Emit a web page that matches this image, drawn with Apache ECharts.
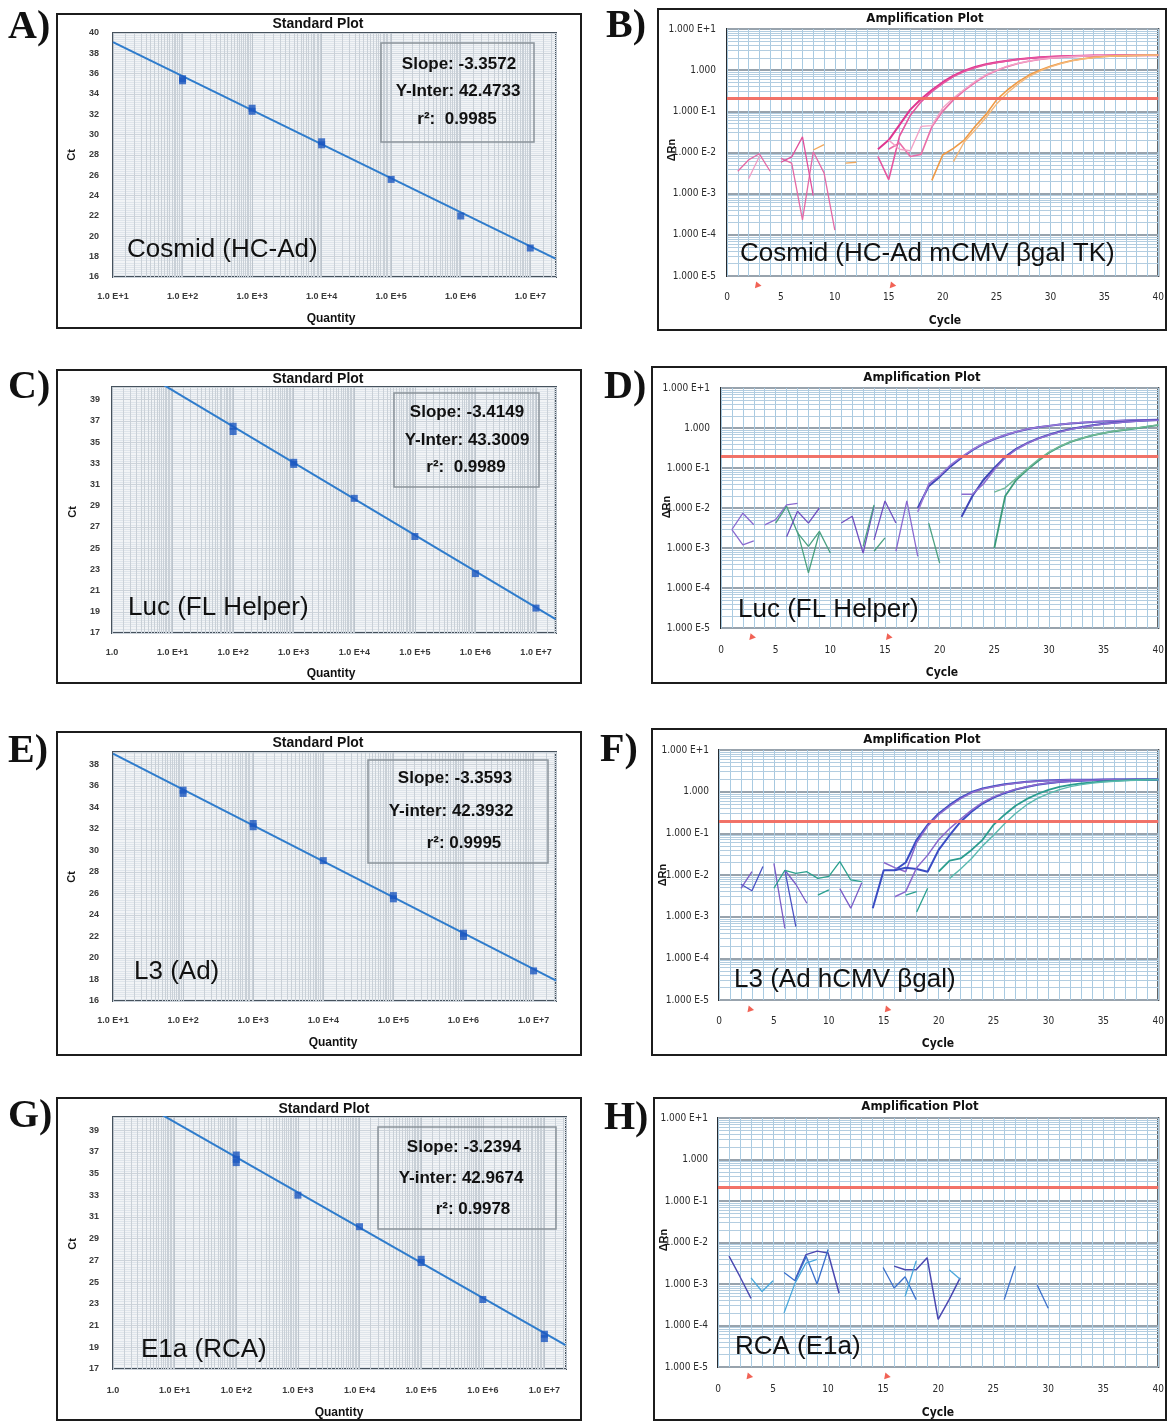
<!DOCTYPE html>
<html><head><meta charset="utf-8">
<script src="https://cdn.jsdelivr.net/npm/echarts@6.0.0/dist/echarts.min.js"></script>
<style>html,body{margin:0;padding:0;background:#fff}#c{width:1167px;height:1422px}</style>
</head><body><div id="c"></div>
<script>
// ================= DATA =================
// Standard plots: quantity (copies) and Ct of each standard replicate
const aQty = [1e2, 1e2, 1e3, 1e3, 1e4, 1e4, 1e5, 1e6, 1e7];
const aCt  = [35.5, 35.3, 32.6, 32.3, 29.3, 29.0, 25.6, 22.0, 18.85];
const aFitQty = [10, 2.3e7];
const aFitCt  = [39.1, 17.8];
const aStats = ['Slope: -3.3572', 'Y-Inter: 42.4733', 'r\u00b2:  0.9985'];

const cQty = [1e2, 1e2, 1e3, 1e3, 1e4, 1e5, 1e6, 1e7];
const cCt  = [36.5, 36.0, 33.1, 32.9, 29.7, 26.1, 22.6, 19.35];
const cFitQty = [1, 2.1e7];
const cFitCt  = [43.3, 18.3];
const cStats = ['Slope: -3.4149', 'Y-Inter: 43.3009', 'r\u00b2:  0.9989'];

const eQty = [1e2, 1e2, 1e3, 1e3, 1e4, 1e5, 1e5, 1e6, 1e6, 1e7];
const eCt  = [35.6, 35.3, 32.5, 32.2, 29.05, 25.8, 25.5, 22.3, 22.0, 18.8];
const eFitQty = [10, 2.1e7];
const eFitCt  = [39.0, 17.9];
const eStats = ['Slope: -3.3593', 'Y-inter: 42.3932', 'r\u00b2: 0.9995'];

const gQty = [1e2, 1e2, 1e2, 1e3, 1e4, 1e5, 1e5, 1e6, 1e7, 1e7];
const gCt  = [36.7, 36.3, 36.0, 33.0, 30.1, 27.1, 26.8, 23.4, 20.2, 19.8];
const gFitQty = [1, 2.2e7];
const gFitCt  = [42.97, 19.2];
const gStats = ['Slope: -3.2394', 'Y-inter: 42.9674', 'r\u00b2: 0.9978'];

// Amplification plots: delta Rn per cycle, each trace starts at the cycle in the *Starts array
const bN1 = [0.0035, 0.0066, 0.0093, 0.0035];
const bN2 = [0.0023, 0.008];
const bN3 = [0.0072, 0.0055, 0.00023, 0.0104, 0.0032, 0.00013];
const bN4 = [0.0058, 0.0078, 0.024, 0.0009];
const bN5 = [0.0115, 0.0155];
const bN6 = [0.0055, 0.0058];
const bM1 = [0.012, 0.02, 0.047, 0.11, 0.2, 0.33, 0.51, 0.74, 0.97, 1.2, 1.4, 1.55, 1.7, 1.85, 1.96, 2.05, 2.12, 2.18, 2.22, 2.25, 2.27, 2.28, 2.29, 2.3, 2.3, 2.3, 2.3];
const bM2 = [0.008, 0.0022, 0.025, 0.08, 0.17, 0.3, 0.47, 0.7, 0.93, 1.15, 1.36, 1.52, 1.68, 1.82, 1.94, 2.03, 2.1, 2.16, 2.2, 2.24, 2.26, 2.28, 2.29, 2.3, 2.3, 2.3, 2.3];
const bP1 = [0.012, 0.017, 0.008, 0.009, 0.042, 0.1, 0.19, 0.32, 0.5, 0.74, 0.98, 1.22, 1.45, 1.65, 1.82, 1.95, 2.05, 2.13, 2.19, 2.23, 2.26, 2.28, 2.29, 2.3, 2.3, 2.3];
const bP2 = [0.02, 0.012, 0.011, 0.043, 0.045, 0.12, 0.21, 0.34, 0.53, 0.77, 1.0, 1.25, 1.47, 1.67, 1.84, 1.97, 2.06, 2.14, 2.2, 2.24, 2.27, 2.28, 2.29, 2.3, 2.3, 2.3];
const bO1 = [0.0021, 0.0087, 0.0126, 0.02, 0.043, 0.083, 0.19, 0.33, 0.52, 0.76, 1.0, 1.25, 1.5, 1.72, 1.9, 2.05, 2.15, 2.22, 2.26, 2.28, 2.3, 2.3];
const bO2 = [0.006, 0.018, 0.035, 0.07, 0.15, 0.28, 0.46, 0.7, 0.95, 1.2, 1.45, 1.68, 1.87, 2.02, 2.13, 2.2, 2.25, 2.28, 2.3, 2.3];
const bStarts = [1, 2, 5, 5, 8, 11, 14, 14, 15, 15, 19, 21];

const dN1 = [0.0029, 0.0074, 0.0038];
const dN2 = [0.0029, 0.0012, 0.0015];
const dN3 = [0.0038, 0.0051, 0.012, 0.013];
const dN4 = [0.0042, 0.011, 0.0024, 0.0011, 0.0026, 0.00075];
const dN5 = [0.0026, 0.00024, 0.0024];
const dN6 = [0.0019, 0.0083, 0.0042, 0.01];
const dN7 = [0.0042, 0.0062, 0.00075, 0.011];
const dN8 = [0.0016, 0.015, 0.0042];
const dN9 = [0.00083, 0.015, 0.00062];
const dN10 = [0.0011, 0.012];
const dN11 = [0.00083, 0.0018];
const dN12 = [0.0042, 0.00042];
const dG1a = [0.01, 0.035, 0.06, 0.11, 0.18, 0.28, 0.4, 0.53, 0.66, 0.8, 0.93, 1.04, 1.13, 1.22, 1.3, 1.36, 1.42, 1.46, 1.5, 1.53, 1.56, 1.58, 1.6];
const dG1b = [0.008, 0.04, 0.065, 0.12, 0.19, 0.29, 0.41, 0.54, 0.67, 0.81, 0.94, 1.05, 1.14, 1.23, 1.31, 1.37, 1.43, 1.47, 1.51, 1.54, 1.57, 1.59, 1.61];
const dG2a = [0.006, 0.02, 0.05, 0.1, 0.19, 0.3, 0.42, 0.55, 0.68, 0.82, 0.95, 1.06, 1.17, 1.28, 1.36, 1.43, 1.49, 1.54, 1.58];
const dG2b = [0.022, 0.022, 0.04, 0.09, 0.18, 0.29, 0.41, 0.54, 0.67, 0.8, 0.93, 1.04, 1.15, 1.26, 1.34, 1.42, 1.48, 1.53, 1.57];
const dG3a = [0.001, 0.02, 0.05, 0.09, 0.15, 0.24, 0.34, 0.45, 0.55, 0.65, 0.74, 0.83, 0.9, 0.98, 1.08, 1.18];
const dG3b = [0.025, 0.032, 0.055, 0.095, 0.16, 0.25, 0.35, 0.46, 0.56, 0.66, 0.75, 0.84, 0.92, 1.0, 1.1, 1.2];
const dStarts = [1, 1, 4, 5, 7, 6, 11, 14, 16, 13, 14, 19, 18, 18, 22, 22, 25, 25];

const fN1 = [0.006, 0.0042, 0.016];
const fN2 = [0.0048, 0.012];
const fN3 = [0.019, 0.00052];
const fN4 = [0.013, 0.00058];
const fN5 = [0.013, 0.006, 0.0021];
const fN6 = [0.0048, 0.013, 0.011, 0.012, 0.0083, 0.0093, 0.021, 0.0076, 0.0069];
const fN7 = [0.0033, 0.0044];
const fN8 = [0.0047, 0.0016, 0.0065];
const fN9 = [0.0033, 0.004];
const fN10 = [0.0013, 0.0048];
const fG1a = [0.0016, 0.013, 0.013, 0.02, 0.07, 0.16, 0.3, 0.48, 0.72, 0.98, 1.2, 1.35, 1.5, 1.62, 1.72, 1.8, 1.86, 1.9, 1.92, 1.93, 1.94, 1.95, 1.95, 1.95, 1.95, 1.95, 1.95];
const fG1b = [0.02, 0.015, 0.012, 0.06, 0.15, 0.28, 0.45, 0.68, 0.94, 1.16, 1.32, 1.47, 1.6, 1.7, 1.79, 1.85, 1.89, 1.92, 1.93, 1.94, 1.95, 1.95, 1.95, 1.95, 1.95, 1.95];
const fG2a = [0.013, 0.015, 0.014, 0.012, 0.04, 0.09, 0.19, 0.33, 0.52, 0.72, 0.92, 1.12, 1.3, 1.47, 1.6, 1.7, 1.78, 1.84, 1.88, 1.91, 1.93, 1.94, 1.95, 1.95, 1.95];
const fG2b = [0.003, 0.004, 0.015, 0.03, 0.07, 0.13, 0.22, 0.36, 0.55, 0.75, 0.95, 1.14, 1.32, 1.48, 1.61, 1.71, 1.79, 1.85, 1.89, 1.92, 1.93, 1.94, 1.95, 1.95, 1.95];
const fG3a = [0.012, 0.022, 0.025, 0.04, 0.07, 0.16, 0.28, 0.46, 0.66, 0.88, 1.1, 1.3, 1.46, 1.58, 1.68, 1.76, 1.82, 1.87, 1.91, 1.93, 1.95];
const fG3b = [0.0083, 0.014, 0.025, 0.05, 0.09, 0.17, 0.3, 0.48, 0.69, 0.9, 1.12, 1.32, 1.48, 1.6, 1.7, 1.78, 1.84, 1.88, 1.92, 1.95];
const fStarts = [2, 2, 5, 6, 6, 5, 9, 11, 17, 18, 14, 15, 16, 16, 20, 21];

const hN1 = [0.0047, 0.0015, 0.00045];
const hN2 = [0.0014, 0.00066, 0.0012];
const hN3 = [0.00125, 0.0051, 0.0062, 0.0056, 0.0006];
const hN4 = [0.0047, 0.001, 0.0068];
const hN5 = [0.0002, 0.00105, 0.0032, 0.0039];
const hN6 = [0.0019, 0.0012, 0.0045];
const hN7 = [0.0025, 0.0008, 0.0015, 0.00042];
const hN8 = [0.0027, 0.0022, 0.0022, 0.0043, 0.00014, 0.00042, 0.0014];
const hN9 = [0.0005, 0.0036];
const hN10 = [0.0022, 0.0013];
const hN11 = [0.00042, 0.0027];
const hN12 = [0.00095, 0.00026];
const hStarts = [1, 3, 7, 8, 6, 6, 15, 16, 17, 21, 26, 29];

const thresholds = [0.21, 0.2, 0.19, 0.21];      // B, D, F, H threshold dRn
const baselineCycles = [2.8, 15.3];               // baseline start / end arrows

// tick helpers for log grid lines
const stdMinorMults = [1.5, 2, 2.5, 3, 3.5, 4, 4.5, 5, 5.5, 6, 6.5, 7, 7.5, 8, 8.5, 9, 9.5];
const ampMinorMults = [2, 3, 4, 5, 6, 7, 8, 9];

// ================= STYLE / LAYOUT =================
const SANS = '"Liberation Sans", Arial, sans-serif';
const NARROW = '"Liberation Sans Narrow", "DejaVu Sans Condensed", "Liberation Sans", sans-serif';
const SERIF = '"Liberation Serif", "DejaVu Serif", serif';

const grids = [], xAxis = [], yAxis = [], series = [], graphic = [];

function addText(x, y, text, font, align, rot) {
  graphic.push({type: 'text', x: x, y: y, z: 100, rotation: rot || 0,
    style: {text: text, font: font, fill: '#111', align: align || 'center', verticalAlign: 'middle'}});
}
function addRect(b, stroke, lw) {
  graphic.push({type: 'rect', z: 99, shape: {x: b[0], y: b[1], width: b[2] - b[0], height: b[3] - b[1]},
    style: {fill: 'rgba(0,0,0,0)', stroke: stroke, lineWidth: lw}});
}

function stdPanel(L, qty, ct, fitQ, fitC, stats) {
  const gi = grids.length;
  grids.push({left: L.plot[0], top: L.plot[1], width: L.plot[2] - L.plot[0], height: L.plot[3] - L.plot[1],
    show: true, backgroundColor: '#f2f4f6', borderColor: '#46525d', borderWidth: 2});
  xAxis.push({gridIndex: gi, type: 'value', min: L.xMin, max: L.xMax, interval: 1,
    axisLine: {show: false}, axisTick: {show: false},
    axisLabel: {margin: L.xm, fontSize: 9, fontWeight: 'bold', color: '#3a3a3a', fontFamily: SANS,
      formatter: v => (Math.abs(v - Math.round(v)) < 1e-6 ? (Math.round(v) === 0 ? '1.0' : '1.0 E+' + Math.round(v)) : '')},
    splitLine: {show: true, lineStyle: {color: '#bcc4cc', width: 1}}});
  yAxis.push({gridIndex: gi, type: 'value', min: L.yMin, max: L.yMax, interval: 2,
    axisLine: {show: false}, axisTick: {show: false},
    axisLabel: {margin: L.ym, fontSize: 9, fontWeight: 'bold', color: '#3a3a3a', fontFamily: SANS,
      formatter: v => (Math.abs(((v - L.yMin) % 2)) < 1e-6 ? String(v) : '')},
    splitLine: {show: true, lineStyle: {color: '#cdd4db'}},
    minorTick: {show: false, splitNumber: 10},
    minorSplitLine: {show: true, lineStyle: {color: '#dfe5eb', width: 1}}});
  const vl = [];
  for (let k = Math.floor(L.xMin); k < L.xMax; k++) {
    for (const m of stdMinorMults) {
      const v = k + Math.log10(m);
      if (v > L.xMin && v < L.xMax) vl.push({xAxis: v});
    }
  }
  series.push({type: 'line', xAxisIndex: gi, yAxisIndex: gi, data: [], z: 1, silent: true,
    markLine: {z: 1, silent: true, symbol: ['none', 'none'], label: {show: false}, animation: false,
      lineStyle: {color: '#c9d0d7', width: 1, type: 'solid', opacity: 1}, data: vl}});
  series.push({type: 'line', xAxisIndex: gi, yAxisIndex: gi, z: 3, showSymbol: false, silent: true,
    data: fitQ.map((q, j) => [Math.log10(q), fitC[j]]), lineStyle: {color: '#2f7ccc', width: 2}});
  series.push({type: 'scatter', xAxisIndex: gi, yAxisIndex: gi, z: 4, silent: true, symbol: 'rect', symbolSize: [7, 7],
    data: qty.map((q, j) => [Math.log10(q), ct[j]]), itemStyle: {color: '#1c58c0'}});
  // frame & texts
  addRect(L.box, '#1c1c1c', 2);
  addText(L.title[0], L.title[1], 'Standard Plot', 'bold 14px ' + SANS);
  addText(L.xname[0], L.xname[1], 'Quantity', 'bold 12px ' + SANS);
  addText(L.yname[0], L.yname[1], 'Ct', 'bold 11px ' + SANS, 'center', Math.PI / 2);
  addRect(L.stats, '#8b939b', 1.5);
  for (let j = 0; j < 3; j++) addText(L.statsPos[j][0], L.statsPos[j][1], stats[j], 'bold 17px ' + SANS);
  addText(L.label[0], L.label[1], L.labelText, '26px ' + SANS, 'left');
  addText(L.letter[0], L.letter[1], L.letterText, 'bold 40px ' + SERIF, 'left');
}

function ampPanel(L, traces, starts, colors, widths, thr) {
  const gi = grids.length;
  grids.push({left: L.plot[0], top: L.plot[1], width: L.plot[2] - L.plot[0], height: L.plot[3] - L.plot[1],
    show: true, backgroundColor: '#ffffff', borderColor: '#262b30', borderWidth: 2});
  xAxis.push({gridIndex: gi, type: 'value', min: 0, max: 40, interval: 5,
    axisLine: {show: false}, axisTick: {show: false},
    axisLabel: {margin: L.xm, fontSize: 10, color: '#2a2a2a', fontFamily: NARROW},
    splitLine: {show: true, lineStyle: {color: '#a6c8df'}},
    minorTick: {show: false, splitNumber: 5},
    minorSplitLine: {show: true, lineStyle: {color: '#a9cbe2', width: 1}}});
  yAxis.push({gridIndex: gi, type: 'value', min: -5, max: 1, interval: 1,
    axisLine: {show: false}, axisTick: {show: false},
    axisLabel: {margin: L.ym, fontSize: 10, color: '#2a2a2a', fontFamily: NARROW,
      formatter: v => (v === 0 ? '1.000' : '1.000 E' + (v > 0 ? '+' : '') + v)},
    splitLine: {show: true, lineStyle: {color: '#98a3ad', width: 2}}});
  const hl = [];
  for (let k = -5; k < 1; k++) for (const m of ampMinorMults) hl.push({yAxis: k + Math.log10(m)});
  series.push({type: 'line', xAxisIndex: gi, yAxisIndex: gi, data: [], z: 1, silent: true,
    markLine: {z: 1, silent: true, symbol: ['none', 'none'], label: {show: false}, animation: false,
      lineStyle: {color: '#b3cde0', width: 1, type: 'solid', opacity: 1}, data: hl}});
  series.push({type: 'line', xAxisIndex: gi, yAxisIndex: gi, data: [], z: 5, silent: true,
    markLine: {z: 5, silent: true, symbol: ['none', 'none'], label: {show: false}, animation: false,
      lineStyle: {color: '#f26b60', width: 3, type: 'solid', opacity: 0.95}, data: [{yAxis: Math.log10(thr)}]}});
  traces.forEach((t, j) => {
    series.push({type: 'line', xAxisIndex: gi, yAxisIndex: gi, z: 3, silent: true, showSymbol: false,
      data: t.map((v, i) => [starts[j] + i, Math.log10(v)]),
      lineStyle: {color: colors[j], width: widths[j]}});
  });
  series.push({type: 'scatter', xAxisIndex: gi, yAxisIndex: gi, z: 6, silent: true, clip: false,
    symbol: 'triangle', symbolSize: [7, 6], symbolRotate: 20,
    data: baselineCycles.map(c => [c, -5.2]), itemStyle: {color: '#ee3b2b'}});
  addRect(L.box, '#1c1c1c', 2);
  addText(L.title[0], L.title[1], 'Amplification Plot', 'bold 13px ' + NARROW);
  addText(L.xname[0], L.xname[1], 'Cycle', 'bold 12px ' + NARROW);
  addText(L.yname[0], L.yname[1], '\u0394Rn', 'bold 11px ' + SANS, 'center', Math.PI / 2);
  addText(L.label[0], L.label[1], L.labelText, '26px ' + SANS, 'left');
  addText(L.letter[0], L.letter[1], L.letterText, 'bold 40px ' + SERIF, 'left');
}

// ---- Standard plots ----
stdPanel({box: [57, 14, 581, 328], plot: [113, 33, 556, 277], xMin: 1, xMax: 7.37, yMin: 16, yMax: 40, xm: 15, ym: 14,
  title: [318, 24], xname: [331, 319], yname: [72, 155], stats: [381, 43, 534, 142],
  statsPos: [[459, 64], [458, 91], [457, 119]], label: [127, 250], labelText: 'Cosmid (HC-Ad)',
  letter: [8, 28], letterText: 'A)'}, aQty, aCt, aFitQty, aFitCt, aStats);
stdPanel({box: [57, 370, 581, 683], plot: [112, 387, 556, 633], xMin: 0, xMax: 7.33, yMin: 17, yMax: 40.2, xm: 15, ym: 12,
  title: [318, 379], xname: [331, 674], yname: [73, 512], stats: [394, 393, 539, 487],
  statsPos: [[467, 412], [467, 440], [466, 467]], label: [128, 608], labelText: 'Luc (FL Helper)',
  letter: [8, 388], letterText: 'C)'}, cQty, cCt, cFitQty, cFitCt, cStats);
stdPanel({box: [57, 732, 581, 1055], plot: [113, 752, 556, 1001], xMin: 1, xMax: 7.32, yMin: 16, yMax: 39.15, xm: 15, ym: 14,
  title: [318, 743], xname: [333, 1043], yname: [72, 877], stats: [368, 760, 548, 863],
  statsPos: [[455, 778], [451, 811], [464, 843]], label: [134, 972], labelText: 'L3 (Ad)',
  letter: [8, 752], letterText: 'E)'}, eQty, eCt, eFitQty, eFitCt, eStats);
stdPanel({box: [57, 1098, 581, 1420], plot: [113, 1117, 566, 1369], xMin: 0, xMax: 7.35, yMin: 17, yMax: 40.2, xm: 17, ym: 14,
  title: [324, 1109], xname: [339, 1413], yname: [73, 1244], stats: [378, 1127, 556, 1229],
  statsPos: [[464, 1147], [461, 1178], [473, 1209]], label: [141, 1350], labelText: 'E1a (RCA)',
  letter: [8, 1117], letterText: 'G)'}, gQty, gCt, gFitQty, gFitCt, gStats);

// ---- Amplification plots ----
const PINK = '#e46aa6', LPINK = '#f09cc4', ORNG = '#f2a85a';
ampPanel({box: [658, 9, 1166, 330], plot: [727, 29, 1162, 276], xm: 16, ym: 11,
  title: [925, 19], xname: [945, 321], yname: [672, 150], label: [740, 254], labelText: 'Cosmid (HC-Ad mCMV \u03b2gal TK)',
  letter: [606, 27], letterText: 'B)'},
  [bN1, bN2, bN3, bN4, bN5, bN6, bM1, bM2, bP1, bP2, bO1, bO2], bStarts,
  [PINK, LPINK, PINK, '#e0509c', ORNG, ORNG, '#df3690', '#e6559f', '#ea6fa9', '#f2a2c6', '#ef9a45', '#f4b779'],
  [1.3, 1.3, 1.3, 1.3, 1.3, 1.3, 2, 1.6, 1.6, 1.4, 1.6, 1.4], thresholds[0]);

const DV = '#8a6ad0', DP = '#7050c0', DG = '#4aa080';
ampPanel({box: [652, 367, 1166, 683], plot: [721, 388, 1162, 628], xm: 17, ym: 11,
  title: [922, 378], xname: [942, 673], yname: [667, 507], label: [738, 610], labelText: 'Luc (FL Helper)',
  letter: [604, 388], letterText: 'D)'},
  [dN1, dN2, dN3, dN4, dN5, dN6, dN7, dN8, dN9, dN10, dN11, dN12, dG1a, dG1b, dG2a, dG2b, dG3a, dG3b], dStarts,
  [DV, DV, DV, DG, DG, DP, DP, DP, DV, DG, DG, DG, '#3f46b8', '#9a78d6', '#3f46b8', '#8c6cd0', '#3b9b7a', '#72b896'],
  [1.3, 1.3, 1.3, 1.3, 1.3, 1.3, 1.3, 1.3, 1.3, 1.3, 1.3, 1.3, 2, 1.5, 2, 1.5, 1.8, 1.4], thresholds[1]);

const FB = '#4a52c4', FP = '#7a5cc6', FT = '#2aa08e';
ampPanel({box: [652, 729, 1166, 1055], plot: [719, 750, 1161, 1000], xm: 16, ym: 10,
  title: [922, 740], xname: [938, 1044], yname: [663, 875], label: [734, 980], labelText: 'L3 (Ad hCMV \u03b2gal)',
  letter: [600, 751], letterText: 'F)'},
  [fN1, fN2, fN3, fN4, fN5, fN6, fN7, fN8, fN9, fN10, fG1a, fG1b, fG2a, fG2b, fG3a, fG3b], fStarts,
  [FB, FP, FP, FB, FP, FT, FT, FP, FT, FT, '#3a4cc4', '#8a68cc', '#3a4cc4', '#8a68cc', '#2a9c8e', '#5ab9ae'],
  [1.3, 1.3, 1.3, 1.3, 1.3, 1.3, 1.3, 1.3, 1.3, 1.3, 2, 1.5, 2, 1.5, 1.8, 1.4], thresholds[2]);

const HD = '#4b48b0', HB = '#3a70cc', HL = '#4aa8dc';
ampPanel({box: [654, 1098, 1166, 1420], plot: [718, 1118, 1161, 1367], xm: 17, ym: 10,
  title: [920, 1107], xname: [938, 1413], yname: [664, 1240], label: [735, 1347], labelText: 'RCA (E1a)',
  letter: [604, 1119], letterText: 'H)'},
  [hN1, hN2, hN3, hN4, hN5, hN6, hN7, hN8, hN9, hN10, hN11, hN12], hStarts,
  [HD, HL, HD, HB, HL, HB, HB, HD, HL, HL, HB, HB],
  [1.4, 1.3, 1.5, 1.3, 1.3, 1.3, 1.3, 1.5, 1.3, 1.3, 1.3, 1.3], thresholds[3]);

const chart = echarts.init(document.getElementById('c'), null, {renderer: 'canvas', width: 1167, height: 1422});
chart.setOption({
  animation: false,
  backgroundColor: '#ffffff',
  grid: grids, xAxis: xAxis, yAxis: yAxis, series: series, graphic: graphic
});
</script>
</body></html>
